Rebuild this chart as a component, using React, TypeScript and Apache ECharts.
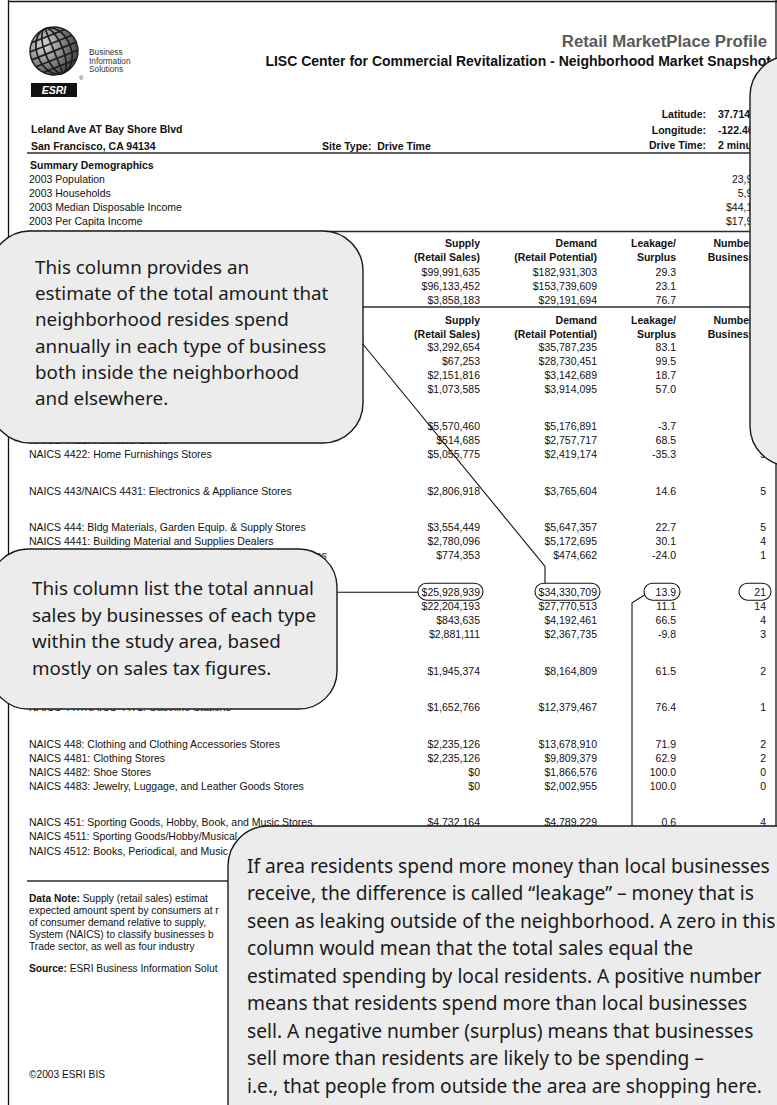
import React, { useEffect, useRef } from "react";
import * as echarts from "echarts";

// ---------- text content ----------
const reportTitle = "Retail MarketPlace Profile";
const reportSubtitle = "LISC Center for Commercial Revitalization - Neighborhood Market Snapshot";
const logoWords = ["Business", "Information", "Solutions"];
const siteAddress = ["Leland Ave AT Bay Shore Blvd", "San Francisco, CA 94134"];
const siteType = "Site Type:  Drive Time";
const geoLabels = ["Latitude:", "Longitude:", "Drive Time:"];
const geoValues = ["37.7146", "-122.4035", "2 minutes"];

const demoTitle = "Summary Demographics";
const demoLabels = ["2003 Population", "2003 Households", "2003 Median Disposable Income", "2003 Per Capita Income"];
const demoValues = ["23,918", "5,937", "$44,128", "$17,946"];

const headerTop = ["Supply", "Demand", "Leakage/", "Number of"];
const headerBottom = ["(Retail Sales)", "(Retail Potential)", "Surplus", "Businesses"];
const tableTitles = ["Industry Summary", "Industry Group"];

const summaryLabels = [
  "Total Retail Trade and Food & Drink (NAICS 44-45, 722)",
  "Total Retail Trade (NAICS 44-45)",
  "Total Food & Drink (NAICS 722)",
];
const summarySupply = [99991635, 96133452, 3858183];
const summaryDemand = [182931303, 153739609, 29191694];
const summaryLeakage = [29.3, 23.1, 76.7];
const summaryBusinesses = [95, 80, 15];

const industryLabels = [
  "NAICS 441: Motor Vehicle & Parts Dealers",
  "NAICS 4411: Automobile Dealers",
  "NAICS 4412: Other Motor Vehicle Dealers",
  "NAICS 4413: Auto Parts, Accessories, and Tire Stores",
  "NAICS 442: Furniture & Home Furnishings Stores",
  "NAICS 4421: Furniture Stores",
  "NAICS 4422: Home Furnishings Stores",
  "NAICS 443/NAICS 4431: Electronics & Appliance Stores",
  "NAICS 444: Bldg Materials, Garden Equip. & Supply Stores",
  "NAICS 4441: Building Material and Supplies Dealers",
  "NAICS 4442: Lawn and Garden Equipment and Supplies Stores",
  "NAICS 445: Food & Beverage Stores",
  "NAICS 4451: Grocery Stores",
  "NAICS 4452: Specialty Food Stores",
  "NAICS 4453: Beer, Wine, and Liquor Stores",
  "NAICS 446/NAICS 4461: Health & Personal Care Stores",
  "NAICS 447/NAICS 4471: Gasoline Stations",
  "NAICS 448: Clothing and Clothing Accessories Stores",
  "NAICS 4481: Clothing Stores",
  "NAICS 4482: Shoe Stores",
  "NAICS 4483: Jewelry, Luggage, and Leather Goods Stores",
  "NAICS 451: Sporting Goods, Hobby, Book, and Music Stores",
  "NAICS 4511: Sporting Goods/Hobby/Musical Instrument Stores",
  "NAICS 4512: Books, Periodical, and Music Stores",
];
const industryGroups = [0, 0, 0, 0, 1, 1, 1, 2, 3, 3, 3, 4, 4, 4, 4, 5, 6, 7, 7, 7, 7, 8, 8, 8];
const industrySupply = [
  3292654, 67253, 2151816, 1073585, 5570460, 514685, 5055775, 2806918, 3554449, 2780096, 774353,
  25928939, 22204193, 843635, 2881111, 1945374, 1652766, 2235126, 2235126, 0, 0, 4732164, 3927522, 804642,
];
const industryDemand = [
  35787235, 28730451, 3142689, 3914095, 5176891, 2757717, 2419174, 3765604, 5647357, 5172695, 474662,
  34330709, 27770513, 4192461, 2367735, 8164809, 12379467, 13678910, 9809379, 1866576, 2002955, 4789229, 3398110, 1391119,
];
const industryLeakage = [
  83.1, 99.5, 18.7, 57.0, -3.7, 68.5, -35.3, 14.6, 22.7, 30.1, -24.0, 13.9, 11.1, 66.5, -9.8, 61.5, 76.4, 71.9, 62.9,
  100.0, 100.0, 0.6, -7.2, 26.7,
];
const industryBusinesses = [3, 1, 1, 1, 6, 1, 5, 5, 5, 4, 1, 21, 14, 4, 3, 2, 1, 2, 2, 0, 0, 4, 3, 1];
const highlightRow = 11;

const noteLines = [
  "Supply (retail sales) estimates sales to consumers by establishments. Sales to businesses are excluded. Demand (retail potential) estimates the",
  "expected amount spent by consumers at retail establishments. Supply and demand are estimated in current dollars. The Leakage/Surplus Factor presents a snapshot",
  "of consumer demand relative to supply, a measure of the relationship between supply and demand that ranges from +100 (total leakage) to -100 (total surplus).",
  "System (NAICS) to classify businesses by their primary type of economic activity. Retail establishments are classified into 27 industry groups in the Retail",
  "Trade sector, as well as four industry groups within the Food Services & Drinking Establishments subsector.",
];
const sourceLine = "ESRI Business Information Solutions in cooperation with infoUSA®";
const copyright = "©2003 ESRI BIS";

const demandNote = [
  "This column provides an",
  "estimate of the total amount that",
  "neighborhood resides spend",
  "annually in each type of business",
  "both inside the neighborhood",
  "and elsewhere.",
];
const supplyNote = [
  "This column list the total annual",
  "sales by businesses of each type",
  "within the study area, based",
  "mostly on sales tax figures.",
];
const leakageNote = [
  "If area residents spend more money than local businesses",
  "receive, the difference is called \u201cleakage\u201d \u2013 money that is",
  "seen as leaking outside of the neighborhood. A zero in this",
  "column would mean that the total sales equal the",
  "estimated spending by local residents. A positive number",
  "means that residents spend more than local businesses",
  "sell. A negative number (surplus) means that businesses",
  "sell more than residents are likely to be spending \u2013",
  "i.e., that people from outside the area are shopping here.",
];

// ---------- layout ----------
const SANS = "'Liberation Sans', Arial, sans-serif";
const BUB = "'Noto Sans', 'Open Sans', sans-serif";
const COL = { label: 29, supply: 480, demand: 597, leakage: 676, count: 766 };
const FS = 10.5;
const TABLE2_TOP = 347;
const ROW = 14.1;
const GROUP_STEP = 36.5;

const callouts = [
  { x: -10, y: 231, w: 373, h: 212, r: 40, tx: 35, ty: 267, step: 26.2, size: 18.8, lines: demandNote },
  { x: -10, y: 549, w: 347, h: 160, r: 38, tx: 32, ty: 588, step: 26.7, size: 18.8, lines: supplyNote },
  { x: 228, y: 826, w: 700, h: 400, r: 40, tx: 247, ty: 865, step: 27.5, size: 19.2, lines: leakageNote },
  { x: 750, y: 56, w: 200, h: 410, r: 40, tx: 0, ty: 0, step: 0, size: 0, lines: [] as string[] },
];
// a text that would sit under a callout's wording is not visible in the reference
const underCalloutText = (x: number, y: number) =>
  callouts.some(
    (c) =>
      c.lines.length > 0 &&
      x >= c.x &&
      x < c.x + c.w &&
      y > c.ty - 15 &&
      y < c.ty + (c.lines.length - 1) * c.step + 15
  );
// width left before a callout on the right covers a left-aligned text
const widthBeforeCallout = (x: number, y: number) => {
  let w = Infinity;
  callouts.forEach((c) => {
    if (c.x > x && y > c.y - 3 && y < c.y + c.h) w = Math.min(w, c.x + 14 - x);
  });
  return w;
};

const money = (v: number) => "$" + v.toLocaleString("en-US");
const pct = (v: number) => v.toFixed(1);
const rowY = (i: number) => {
  const g = industryGroups[i];
  return TABLE2_TOP + (i - g) * ROW + g * GROUP_STEP;
};

type TO = { size?: number; weight?: string; align?: string; fill?: string; family?: string; z?: number; style?: string; width?: number };
const txt = (x: number, y: number, text: string, o: TO = {}) => {
  const style: any = {
    text,
    fill: o.fill ?? "#111",
    fontSize: o.size ?? FS,
    fontFamily: o.family ?? SANS,
    fontWeight: o.weight ?? "normal",
    fontStyle: o.style ?? "normal",
    textAlign: o.align ?? "left",
    align: o.align ?? "left",
    textVerticalAlign: "middle",
    verticalAlign: "middle",
  };
  if (o.width !== undefined && isFinite(o.width)) {
    style.width = o.width;
    style.overflow = "truncate";
    style.ellipsis = "";
  }
  return { type: "text", x, y, z: o.z ?? 2, silent: true, style };
};
const label = (el: any[], x: number, y: number, text: string, o: TO = {}) => {
  if (!underCalloutText(x, y)) el.push(txt(x, y, text, { ...o, width: widthBeforeCallout(x, y) }));
};
const cell = (el: any[], x: number, y: number, text: string) => {
  if (!underCalloutText(x - 8, y)) el.push(txt(x, y, text, { align: "right" }));
};
const hline = (x1: number, x2: number, y: number, w = 1.5, z = 2) => ({
  type: "line",
  z,
  silent: true,
  shape: { x1, y1: y, x2, y2: y },
  style: { stroke: "#2a2a2a", lineWidth: w },
});

function buildElements(): any[] {
  const el: any[] = [];

  // page border
  el.push({ type: "line", z: 2, shape: { x1: 8.5, y1: 0, x2: 8.5, y2: 1105 }, style: { stroke: "#111", lineWidth: 1.3 } });
  el.push({ type: "line", z: 2, shape: { x1: 8, y1: 1.5, x2: 777, y2: 1.5 }, style: { stroke: "#111", lineWidth: 1.3 } });
  el.push({ type: "line", z: 2, shape: { x1: 776, y1: 0, x2: 776, y2: 1105 }, style: { stroke: "#111", lineWidth: 1.3 } });

  // logo globe
  const globeLines: any[] = [];
  [-16, -8, 0, 8, 16].forEach((dy) => {
    const hw = Math.sqrt(24 * 24 - dy * dy);
    globeLines.push({ type: "line", shape: { x1: -hw, y1: dy, x2: hw, y2: dy }, style: { stroke: "#1c1c1c", lineWidth: 1.7 } });
  });
  [9, 17].forEach((rx) => {
    globeLines.push({ type: "ellipse", shape: { cx: 0, cy: 0, rx, ry: 24 }, style: { fill: null, stroke: "#1c1c1c", lineWidth: 1.7 } });
  });
  globeLines.push({ type: "line", shape: { x1: 0, y1: -24, x2: 0, y2: 24 }, style: { stroke: "#1c1c1c", lineWidth: 1.7 } });
  el.push({
    type: "group",
    x: 54,
    y: 51,
    rotation: 0.38,
    z: 2,
    children: [
      {
        type: "circle",
        shape: { cx: 0, cy: 0, r: 24 },
        style: {
          fill: new echarts.graphic.RadialGradient(0.35, 0.3, 0.85, [
            { offset: 0, color: "#d8d8d8" },
            { offset: 0.45, color: "#8a8a8a" },
            { offset: 1, color: "#2a2a2a" },
          ]),
          stroke: "#222",
          lineWidth: 1.5,
        },
      },
      ...globeLines,
    ],
  });
  logoWords.forEach((w, i) => el.push(txt(89, 52 + i * 8.7, w, { size: 8.3, fill: "#333" })));
  el.push(txt(79, 78, "®", { size: 6, fill: "#333" }));
  el.push({ type: "rect", z: 2, shape: { x: 31, y: 83, width: 46, height: 14 }, style: { fill: "#111" } });
  el.push(txt(54, 90, "ESRI", { size: 10.5, weight: "bold", style: "italic", fill: "#fff", align: "center" }));

  // titles
  el.push(txt(767, 41, reportTitle, { size: 16.8, weight: "bold", fill: "#595959", align: "right" }));
  el.push(txt(771, 61, reportSubtitle, { size: 14, weight: "bold", fill: "#111", align: "right" }));

  // site info
  geoLabels.forEach((l, i) => {
    el.push(txt(706, 114 + i * 15.5, l, { weight: "bold", align: "right" }));
    el.push(txt(718, 114 + i * 15.5, geoValues[i], { weight: "bold" }));
  });
  siteAddress.forEach((a, i) => el.push(txt(31, 129 + i * 16.5, a, { weight: "bold" })));
  el.push(txt(322, 145.5, siteType, { weight: "bold" }));
  el.push(hline(27, 776, 153));

  // demographics
  el.push(txt(30, 164.5, demoTitle, { weight: "bold" }));
  demoLabels.forEach((l, i) => {
    el.push(txt(29, 179 + i * 14, l));
    el.push(txt(764, 179 + i * 14, demoValues[i], { align: "right" }));
  });
  el.push(hline(27, 776, 231.5));

  // table headers
  const colX = [COL.supply, COL.demand, COL.leakage, COL.count];
  const header = (y: number, title: string) => {
    label(el, COL.label, y + 14, title, { weight: "bold" });
    colX.forEach((x, i) => {
      el.push(txt(x, y, headerTop[i], { weight: "bold", align: "right" }));
      el.push(txt(x, y + 14, headerBottom[i], { weight: "bold", align: "right" }));
    });
  };
  header(243, tableTitles[0]);
  summaryLabels.forEach((l, i) => {
    const y = 271.5 + i * 14;
    label(el, COL.label, y, l);
    cell(el, COL.supply, y, money(summarySupply[i]));
    cell(el, COL.demand, y, money(summaryDemand[i]));
    cell(el, COL.leakage, y, pct(summaryLeakage[i]));
    cell(el, COL.count, y, String(summaryBusinesses[i]));
  });
  el.push(hline(27, 776, 307));
  header(319.5, tableTitles[1]);

  industryLabels.forEach((l, i) => {
    const y = rowY(i);
    label(el, COL.label, y, l);
    cell(el, COL.supply, y, money(industrySupply[i]));
    cell(el, COL.demand, y, money(industryDemand[i]));
    cell(el, COL.leakage, y, pct(industryLeakage[i]));
    cell(el, COL.count, y, String(industryBusinesses[i]));
  });

  // highlight pills
  const hy = rowY(highlightRow);
  const pill = (x: number, w: number) => ({
    type: "rect",
    z: 3,
    shape: { x, y: hy - 8.5, width: w, height: 17, r: 8.5 },
    style: { fill: null, stroke: "#111", lineWidth: 1.1 },
  });
  el.push(pill(COL.supply - 62, 65));
  el.push(pill(COL.demand - 62, 65));
  el.push(pill(COL.leakage - 32, 36));
  el.push(pill(COL.count - 27, 32));

  // notes (their right part runs under the leakage callout)
  const noteWidth = callouts[2].tx - 27 - 1;
  el.push(hline(27, 776, 881));
  const note = (y: number, text: string) => ({
    type: "text",
    x: 29,
    y,
    z: 2,
    style: {
      text,
      fill: "#111",
      fontSize: 10.2,
      fontFamily: SANS,
      width: noteWidth,
      overflow: "truncate",
      ellipsis: "",
      textVerticalAlign: "middle",
      verticalAlign: "middle",
      rich: { b: { fontWeight: "bold", fontSize: 10.2, fontFamily: SANS, fill: "#111" } },
    },
  });
  noteLines.forEach((l, i) => el.push(note(898 + i * 12.1, i === 0 ? "{b|Data Note:} " + l : l)));
  el.push(note(968, "{b|Source:} " + sourceLine));
  el.push(txt(29, 1074, copyright, { size: 10.2 }));

  // callout connectors
  const ax = 362, ay = 343;
  const bx = COL.supply - 50, by = 426;
  const slope = (bx - ax) / (by - ay);
  const vx = COL.demand - 52;
  const vy = by + (vx - bx) / slope;
  el.push({
    type: "polyline",
    z: 4,
    shape: { points: [[ax, ay], [vx, vy], [vx, hy - 8.5]] },
    style: { stroke: "#111", lineWidth: 1.1, fill: null },
  });
  el.push({
    type: "line",
    z: 4,
    shape: { x1: 337, y1: hy + 0.5, x2: COL.supply - 62, y2: hy + 0.5 },
    style: { stroke: "#111", lineWidth: 1.1 },
  });
  const lx = COL.leakage - 44;
  el.push({
    type: "polyline",
    z: 4,
    shape: { points: [[COL.leakage - 31, hy + 3], [lx, hy + 11], [lx, 830]] },
    style: { stroke: "#111", lineWidth: 1.1, fill: null },
  });

  // callout bubbles
  callouts.forEach((c) => {
    el.push({
      type: "rect",
      z: 10,
      shape: { x: c.x, y: c.y, width: c.w, height: c.h, r: c.r },
      style: { fill: "#ececec", stroke: "#1a1a1a", lineWidth: 1.4 },
    });
    c.lines.forEach((l, i) =>
      el.push(txt(c.tx, c.ty + i * c.step, l, { size: c.size, family: BUB, fill: "#1a1a1a", z: 11 }))
    );
  });

  return el;
}

export default function App() {
  const ref = useRef<HTMLDivElement>(null);
  useEffect(() => {
    if (!ref.current) return;
    const chart = echarts.init(ref.current, undefined, { renderer: "svg" });
    chart.setOption({
      animation: false,
      backgroundColor: "#ffffff",
      graphic: { elements: buildElements() },
    });
    return () => chart.dispose();
  }, []);
  return <div ref={ref} style={{ position: "absolute", left: 0, top: 0, width: 777, height: 1105 }} />;
}
